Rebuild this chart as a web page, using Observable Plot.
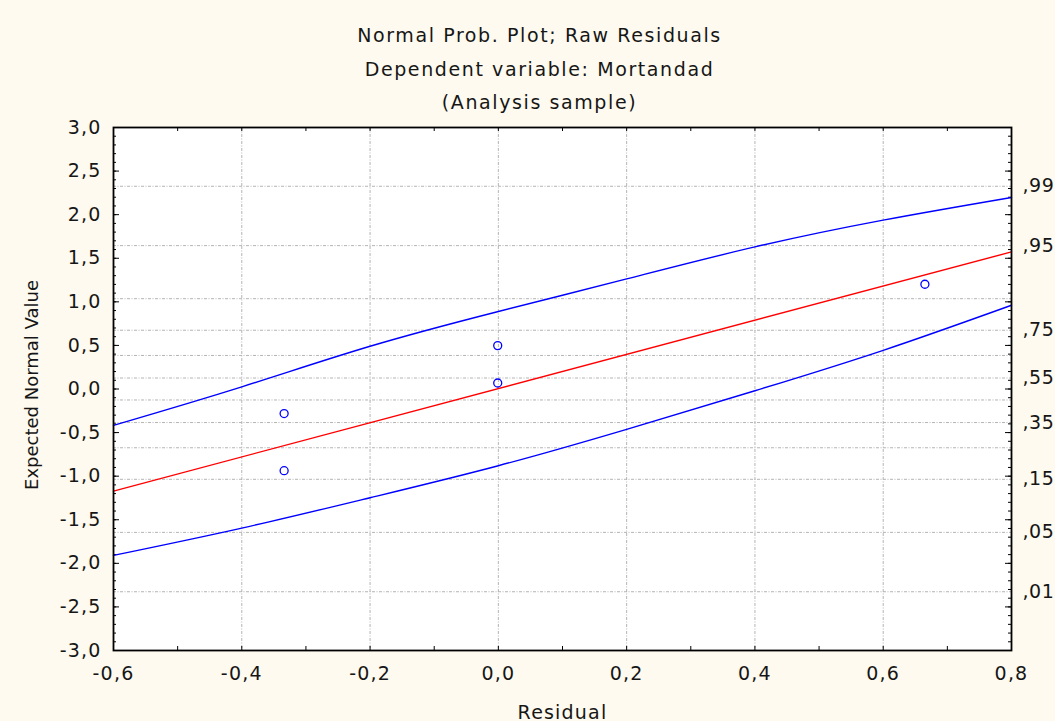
<!DOCTYPE html>
<html>
<head>
<meta charset="utf-8">
<script src="https://cdn.jsdelivr.net/npm/d3@7"></script>
<script src="https://cdn.jsdelivr.net/npm/@observablehq/plot@0.6"></script>
<style>
html, body { margin: 0; padding: 0; background: #fefaef; }
</style>
</head>
<body>
<div id="chart"></div>
<script>
// ---- chart data ----
const titleLines = ["Normal Prob. Plot; Raw Residuals", "Dependent variable: Mortandad", "(Analysis sample)"];
const xLabel = "Residual";
const yLabel = "Expected Normal Value";
const xTicks = [-0.6, -0.4, -0.2, 0, 0.2, 0.4, 0.6, 0.8];
const xGrid = [-0.4, -0.2, 0, 0.2, 0.4, 0.6];
const yTicks = [-3, -2.5, -2, -1.5, -1, -0.5, 0, 0.5, 1, 1.5, 2, 2.5, 3];
const probLabels = [",01", ",05", ",15", ",35", ",55", ",75", ",95", ",99"];
const probZ = [-2.326, -1.645, -1.036, -0.385, 0.126, 0.674, 1.645, 2.326];
const gridZ = [-2.326, -1.645, -1.036, -0.674, -0.385, -0.126, 0.126, 0.385, 0.674, 1.036, 1.645, 2.326];
const residuals = [-0.334, -0.334, -0.001, -0.001, 0.665];
const expected = [-0.282, -0.937, 0.498, 0.069, 1.202];
const fitX = [-0.6, 0.8];
const fitY = [-1.171, 1.573];
const bandX = [-0.6, -0.4, -0.2, 0, 0.2, 0.4, 0.6, 0.8];
const upperY = [-0.417, 0.025, 0.49, 0.889, 1.263, 1.63, 1.937, 2.197];
const lowerY = [-1.909, -1.596, -1.247, -0.88, -0.463, -0.02, 0.444, 0.961];

// ---- layout ----
const W = 1055, H = 721, mL = 113, mR = 44, mT = 127, mB = 71;
const pw = W - mL - mR, ph = H - mT - mB;

const fmt = d => d3.format(".1f")(d).replace("\u2212", "-").replace(".", ",");
const yMinor = d3.range(-30, 31).map(i => i / 10);
const xMinor = d3.range(-6, 9).map(i => i / 10);

const points = residuals.map((x, i) => ({x, y: expected[i]}));
const fit = fitX.map((x, i) => ({x, y: fitY[i]}));
const upper = bandX.map((x, i) => ({x, y: upperY[i]}));
const lower = bandX.map((x, i) => ({x, y: lowerY[i]}));

const gridStyle = {stroke: "#b4b4b4", strokeWidth: 1, strokeDasharray: "3,1.5,1,1.5"};
const tickStyle = {stroke: "#000", strokeWidth: 1};

const chart = Plot.plot({
  width: W, height: H,
  marginLeft: mL, marginRight: mR, marginTop: mT, marginBottom: mB,
  style: {background: "#fefaef", fontFamily: "DejaVu Sans", fontSize: "19px", letterSpacing: "1.2px", color: "#161616"},
  x: {domain: [-0.6, 0.8]},
  y: {domain: [-3, 3]},
  marks: [
    Plot.frame({fill: "white", stroke: "none"}),
    Plot.ruleX(xGrid, {...gridStyle}),
    Plot.ruleY(gridZ, {...gridStyle}),
    // inner ticks: left / right (minor + major)
    Plot.tickY(yMinor, {...tickStyle, insetRight: pw - 3}),
    Plot.tickY(yTicks, {...tickStyle, insetRight: pw - 6}),
    Plot.tickY(yMinor, {...tickStyle, insetLeft: pw - 3}),
    Plot.tickY(yTicks, {...tickStyle, insetLeft: pw - 6}),
    // inner ticks: bottom / top
    Plot.tickX(xMinor, {...tickStyle, insetTop: ph - 4}),
    Plot.tickX(xMinor, {...tickStyle, insetBottom: ph - 4}),
    // confidence band and fitted line
    Plot.line(upper, {x: "x", y: "y", stroke: "#0000ff", strokeWidth: 1.4, curve: "natural"}),
    Plot.line(lower, {x: "x", y: "y", stroke: "#0000ff", strokeWidth: 1.4, curve: "natural"}),
    Plot.line(fit, {x: "x", y: "y", stroke: "#ff0000", strokeWidth: 1.4}),
    Plot.dot(points, {x: "x", y: "y", r: 4, stroke: "#0000ff", fill: "none", strokeWidth: 1.3}),
    Plot.frame({stroke: "#000", strokeWidth: 1.8}),
    // axes
    Plot.axisX({anchor: "bottom", ticks: xTicks, tickFormat: fmt, tickSize: 0, tickPadding: 16, label: null}),
    Plot.axisY({anchor: "left", ticks: yTicks, tickFormat: fmt, tickSize: 0, tickPadding: 12, label: null}),
    Plot.axisY({anchor: "right", ticks: probZ, tickFormat: d => probLabels[probZ.indexOf(d)], tickSize: 0, tickPadding: 11, label: null}),
    // titles and axis labels
    Plot.text([titleLines.join("\n")], {text: d => d, frameAnchor: "top", dx: -23, dy: -62.5, lineAnchor: "middle", lineHeight: 1.75}),
    Plot.text([yLabel], {text: d => d, frameAnchor: "left", textAnchor: "middle", dx: -81, dy: -4, rotate: -90, lineAnchor: "middle", fontSize: 18}),
    Plot.text([xLabel], {text: d => d, frameAnchor: "bottom", dy: 68, lineAnchor: "bottom"})
  ]
});
document.getElementById("chart").appendChild(chart);

// letter spacing tweaks to mimic the stretched original lettering
d3.select(chart).selectAll("text").each(function() {
  const t = this.textContent;
  if (probLabels.includes(t)) this.style.letterSpacing = "0.5px";
  else if (t === yLabel) this.style.letterSpacing = "0px";
  else if (t.startsWith("Normal Prob")) this.style.letterSpacing = "1.6px";
});
</script>
</body>
</html>
